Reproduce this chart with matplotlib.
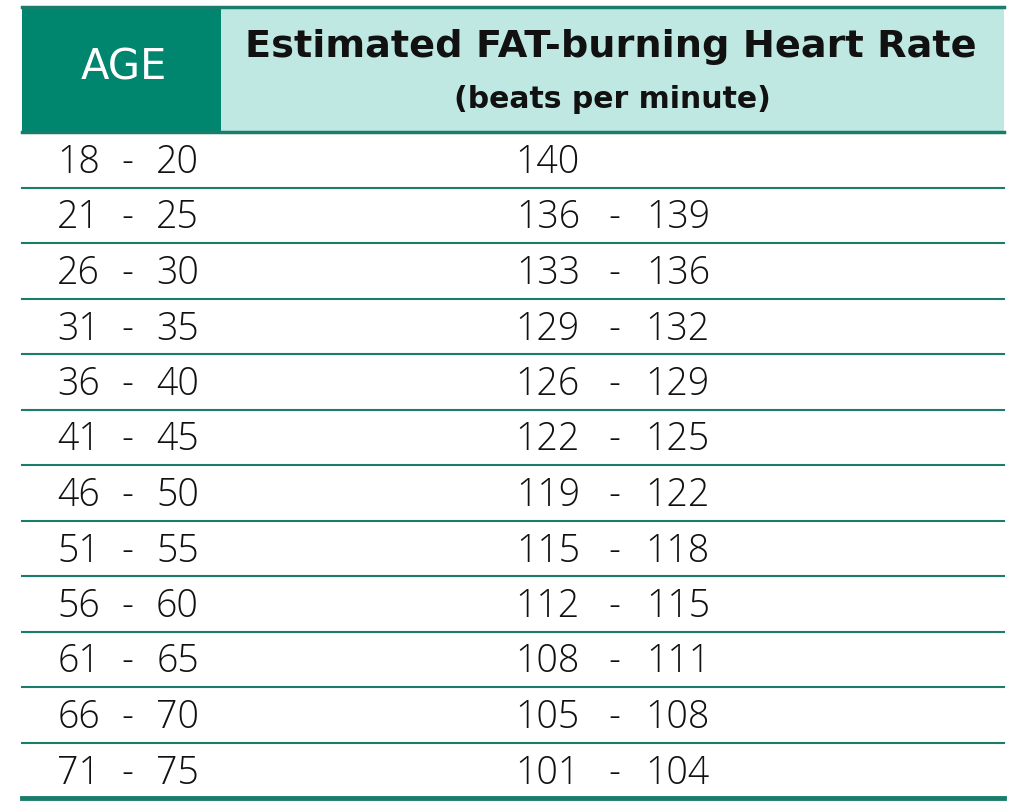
import matplotlib.pyplot as plt
from matplotlib.patches import Rectangle

plt.rcParams['font.family'] = ['DejaVu Sans']

age_low = [18, 21, 26, 31, 36, 41, 46, 51, 56, 61, 66, 71]
age_high = [20, 25, 30, 35, 40, 45, 50, 55, 60, 65, 70, 75]
hr_low = [140, 136, 133, 129, 126, 122, 119, 115, 112, 108, 105, 101]
hr_high = [None, 139, 136, 132, 129, 125, 122, 118, 115, 111, 108, 104]

header_age = "AGE"
header_title = "Estimated FAT-burning Heart Rate"
header_sub = "(beats per minute)"

dark = "#00856f"
light = "#bfe8e2"
line_col = "#1a7c6a"

fig = plt.figure(figsize=(10.24, 8.01), dpi=100)
ax = fig.add_axes([0, 0, 1, 1])
ax.set_xlim(0, 1024)
ax.set_ylim(801, 0)
ax.axis("off")

left, right = 22, 1004
top, head_bot = 7, 132
row_h = 55.5

# header cells
ax.add_patch(Rectangle((left, top), 221 - left, head_bot - top, color=dark, lw=0))
ax.add_patch(Rectangle((221, top), right - 221, head_bot - top, color=light, lw=0))
ax.plot([left, right], [top, top], color=line_col, lw=2.5)
ax.plot([left, right], [head_bot, head_bot], color=line_col, lw=2.5)

ax.text(124, 68, header_age, color="white", fontsize=30, fontweight="normal",
        ha="center", va="center")
ax.text(611, 47, header_title, color="#111111", fontsize=27.5, fontweight="bold",
        ha="center", va="center")
ax.text(612, 100, header_sub, color="#111111", fontsize=21.5, fontweight="bold",
        ha="center", va="center")

num_font = ['Open Sans', 'DejaVu Sans']
n = len(age_low)
for i in range(n):
    y0 = head_bot + i * row_h
    yc = y0 + row_h / 2 + 3
    y1 = y0 + row_h
    last = i == n - 1
    ax.plot([left, right], [y1, y1], color=line_col, lw=3.5 if last else 1.5)
    kw = dict(fontsize=27, fontweight="light", family=num_font,
              color="#111111", va="center")
    ax.text(100, yc, str(age_low[i]), ha="right", **kw)
    ax.text(127, yc, "-", ha="center", **kw)
    ax.text(199, yc, str(age_high[i]), ha="right", **kw)
    ax.text(580, yc, str(hr_low[i]), ha="right", **kw)
    if hr_high[i] is not None:
        ax.text(614, yc, "-", ha="center", **kw)
        ax.text(710, yc, str(hr_high[i]), ha="right", **kw)

fig.savefig("out.png", dpi=100)
